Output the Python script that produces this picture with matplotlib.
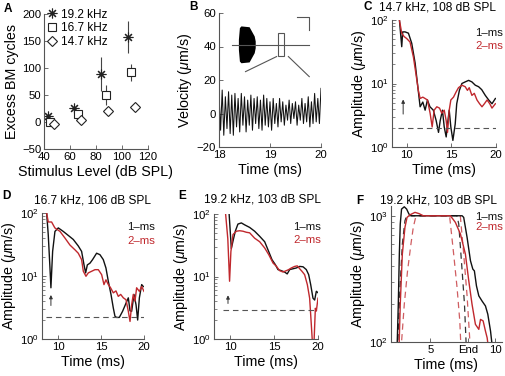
import numpy as np
import matplotlib
matplotlib.use('Agg')
import matplotlib.pyplot as plt
from matplotlib.ticker import LogLocator, NullFormatter, NullLocator, FixedLocator, FixedFormatter

plt.rcParams['font.family'] = ['Liberation Sans', 'DejaVu Sans']
plt.rcParams['mathtext.fontset'] = 'custom'
plt.rcParams['mathtext.rm'] = 'Liberation Sans'
plt.rcParams['mathtext.it'] = 'Liberation Sans:italic'
plt.rcParams['mathtext.bf'] = 'Liberation Sans:bold'

# ---------------- data ----------------
# Panel A: excess BM cycles vs stimulus level
a_lvl_192 = [42.7, 63.0, 83.9, 104.3]
a_cyc_192 = [11, 25, 89, 157]
a_err_192 = [5, 5, 31, 30]
a_lvl_167 = [44.9, 66.3, 87.5, 107.3]
a_cyc_167 = [0, 14, 50, 92]
a_err_167 = [4, 5, 18, 16]
a_lvl_147 = [47.6, 68.7, 89.6, 110.0]
a_cyc_147 = [-4, 4, 20, 27]
a_err_147 = [4, 4, 6, 6]

# Panel B: BM velocity (successive extremes, 18-20 ms)
b_vel = [12, -10, 14, -13, 10, -9, 13, -12, 11, -13, 12, -8, 9, -11, 12, -7,
         10, -11, 8, -7, 11, -10, 9, -6, 10, -9, 8, -10, 11, -7, 9, -8,
         7, -10, 9, -6, 6, -8, 9, -5, 7, -7, 5, -4, 8, -6, 6, -3, 7, -7,
         5, -4, 9, -6, 6, -5, 10, -8, 7, -6, 12, -5, 9, -6, 15]
b_time_start, b_time_end = 18.0, 20.0

# Panel B inset (schematic)
ins_line_x = [18.26, 19.77]
ins_line_y = [41, 41]
ins_burst_x = [18.39, 18.41, 18.44, 18.60, 18.70, 18.72, 18.72, 18.70, 18.60, 18.44, 18.41, 18.39]
ins_burst_y = [44, 51, 52, 51.5, 46, 43, 39, 36, 30.5, 30, 31, 38]
ins_box = [19.16, 34.6, 0.11, 13.4]
ins_zoom_l = ([19.13, 18.52], [34, 25])
ins_zoom_r = ([19.36, 19.77], [34, 22])
ins_scale = ([19.52, 19.77, 19.77], [57.4, 57.4, 50])

# Panel C: 14.7 kHz, 108 dB SPL
c_t1 = [9.18, 9.44, 9.55, 9.81, 10.19, 10.56, 10.94, 11.2, 11.5, 11.8, 12.06, 12.32, 12.6, 12.98,
        13.3, 13.56, 13.75, 14.0, 14.2, 14.42, 14.57, 14.76, 14.94, 15.17, 15.43, 15.6, 15.9,
        16.18, 16.55, 16.93, 17.3, 17.68, 18.05, 18.4, 18.8, 19.18, 19.55, 19.93]
c_a1 = [100, 38, 65, 65, 62, 43, 21, 10, 4.3, 5.1, 3.8, 5.5, 4.3, 3.8, 2.6, 1.7, 2.6, 3.8,
        2.07, 1.44, 2.3, 3.8, 2.07, 1.27, 2.3, 4.8, 7.8, 10, 10.6, 11.2, 10.6, 9.4, 8.9, 8.0,
        6.5, 5.5, 4.8, 5.8]
c_t2 = [9.18, 9.44, 9.7, 10.0, 10.37, 10.75, 11.05, 11.3, 11.5, 11.8, 12.06, 12.32, 12.62,
        12.85, 13.07, 13.37, 13.67, 13.93, 14.2, 14.42, 14.57, 14.76, 14.94, 15.24, 15.54,
        15.8, 16.18, 16.55, 16.8, 17.0, 17.3, 17.57, 17.87, 18.16, 18.43, 18.7, 19.0, 19.3,
        19.55, 19.93]
c_a2 = [100, 62, 55, 51, 45, 26, 13.6, 7.8, 5.8, 6.1, 5.8, 5.5, 3.4, 2.07, 3.8, 4.3, 4.1,
        3.4, 3.8, 2.6, 1.7, 3.8, 5.5, 6.1, 7.4, 8.6, 9.4, 8.9, 7.8, 8.6, 6.5, 7.0, 5.5, 4.8,
        4.3, 4.8, 5.5, 4.8, 4.1, 4.8]
c_noise = 2.0
c_arrow = (9.6, 3.3, 5.6)

# Panel D: 16.7 kHz, 106 dB SPL
d_t1 = [8.64, 8.83, 9.03, 9.14, 9.34, 9.61, 10.0, 10.58, 11.17, 11.75, 12.33, 12.72, 13.0,
        13.19, 13.39, 13.7, 14.0, 14.47, 14.86, 15.25, 15.56, 15.84, 16.15, 16.42, 16.61,
        16.8, 17.12, 17.5, 17.9, 18.17, 18.37, 18.56, 18.83, 19.07, 19.26, 19.46, 19.73, 19.92]
d_a1 = [100, 45, 13.4, 6.5, 24.6, 51, 58, 51, 44, 38, 30, 24.6, 15.1, 11.2, 15, 16, 18.2,
        23, 21.8, 18.2, 13.4, 8.2, 5.1, 3.1, 2.3, 2.2, 2.2, 2.75, 3.7, 4.5, 2.8, 2.75, 5.1,
        3.5, 2.0, 4.5, 7.3, 6.8]
d_t2 = [8.64, 8.83, 9.22, 9.6, 10.2, 10.78, 11.36, 11.95, 12.33, 12.72, 12.92, 13.23, 13.5,
        13.9, 14.28, 14.67, 15.06, 15.33, 15.56, 15.84, 16.1, 16.42, 16.73, 17.0, 17.28,
        17.59, 17.9, 18.17, 18.37, 18.56, 18.75, 18.95, 19.14, 19.46, 19.73, 20.0]
d_a2 = [100, 72, 72, 58, 51, 40, 31, 26, 23, 18.2, 11.9, 9.9, 11.2, 11.9, 12.6, 12.6, 10.5,
        7.3, 8.7, 7.3, 6.5, 5.4, 5.8, 4.75, 5.1, 4.5, 4.2, 2.75, 1.9, 3.5, 5.1, 4.0, 6.5,
        5.7, 6.8, 5.7]
d_noise = 2.2
d_arrow = (9.14, 3.4, 5.0)

# Panel E: 19.2 kHz, 103 dB SPL
e_t1 = [9.9, 10.15, 10.34, 10.6, 10.9, 11.29, 11.67, 12.23, 12.8, 13.37, 13.94, 14.4, 14.77,
        15.15, 15.45, 15.83, 16.2, 16.5, 16.78, 17.16, 17.54, 17.92, 18.3, 18.67, 18.94,
        19.17, 19.43, 19.62, 19.81, 20.0]
e_a1 = [100, 28, 37, 53, 69, 72, 67, 61, 53, 44, 36, 25, 18.6, 15.5, 12.9, 12.4, 11.8, 11,
        12.9, 13.3, 13.7, 14.5, 14.3, 12.9, 10.7, 7.4, 4.5, 4.2, 5.8, 5.5]
e_t2 = [9.5, 9.75, 9.95, 10.1, 10.34, 10.72, 11.1, 11.48, 11.86, 12.23, 12.8, 13.37, 13.94,
        14.4, 14.89, 15.27, 15.64, 16.02, 16.4, 16.67, 16.97, 17.35, 17.65, 17.92, 18.18,
        18.48, 18.79, 19.05, 19.24, 19.36, 19.55, 19.7, 19.81, 20.0]
e_a2 = [100, 40, 8.4, 25, 47, 53, 54, 53, 51, 50, 41, 36, 28.6, 22.4, 16.4, 14.6, 12.4, 11.8,
        12.4, 12.9, 13.7, 14.5, 14.8, 13.3, 12.1, 10.7, 7.4, 4.5, 1.7, 0.9, 0.9, 3.1, 2.8, 4.5]
e_noise = 2.94
e_arrow = (9.77, 3.7, 5.0)

# Panel F: 19.2 kHz, 103 dB SPL (full response & stimulus envelopes)
f_t1 = [2.44, 2.54, 2.62, 2.69, 2.79, 3.0, 3.18, 3.36, 3.56, 7.44, 7.56, 7.82, 8.08, 8.26,
        8.38, 8.54, 8.72, 8.97, 9.23, 9.41, 9.62, 9.79]
f_a1 = [85, 199, 497, 859, 1130, 1178, 1130, 1030, 1000, 1000, 971, 674, 440, 378, 366, 278,
        232, 211, 193, 166, 122, 85]
f_t2 = [2.59, 2.69, 2.85, 3.05, 3.21, 3.44, 3.82, 4.13, 4.46, 6.54, 6.92, 7.31, 7.69, 7.95,
        8.2, 8.46, 8.72, 8.85, 9.05, 9.23, 9.36, 9.49]
f_a2 = [85, 199, 497, 809, 970, 1018, 1064, 1040, 1000, 1000, 887, 716, 497, 305, 199, 138,
        126, 151, 147, 122, 108, 85]
f_env1_t = [2.48, 2.67, 2.85, 3.05, 3.18, 7.05, 7.18, 7.44, 7.62, 7.77]
f_env1_a = [85, 270, 596, 913, 1000, 1000, 859, 366, 199, 85]
f_env2_t = [2.74, 3.0, 3.25, 3.51, 3.69, 3.87, 4.0, 6.4, 6.49, 6.79, 7.05, 7.26, 7.36]
f_env2_a = [85, 199, 366, 596, 809, 970, 1000, 1000, 970, 497, 270, 147, 85]
f_env3_t = [7.3, 7.56, 7.82, 8.08]
f_env3_a = [1000, 497, 232, 85]
f_ticks = [5, 7.9, 10]
f_ticklabels = ['5', 'End', '10']

# ---------------- figure ----------------
W, H = 506, 376
fig = plt.figure(figsize=(W / 100, H / 100), dpi=100)

def box(l, t, r, b):
    return [l / W, 1 - b / H, (r - l) / W, (b - t) / H]

SPINE = '#555555'
BLK = '#111111'
RED = '#c0282d'
GRAY = '#555555'
TICK_FS = 8.2
LAB_FS = 10.3

def style(ax):
    for s in ['top', 'right']:
        ax.spines[s].set_visible(False)
    for s in ['left', 'bottom']:
        ax.spines[s].set_color(SPINE)
        ax.spines[s].set_linewidth(0.8)
    ax.tick_params(direction='in', length=3, width=0.6, color=SPINE,
                   labelsize=TICK_FS, pad=2)
    ax.tick_params(which='minor', direction='in', length=1.8, width=0.5, color=SPINE)
    ax.patch.set_alpha(0)

def ftext(x, y, s, **kw):
    fig.text(x / W, 1 - y / H, s, **kw)

# Panel A
axA = fig.add_axes(box(44, 14, 148, 149))
style(axA)
for lv, cy, er, mk, ms, lab in [
        (a_lvl_192, a_cyc_192, a_err_192, (8, 2, 0), 7, '19.2 kHz'),
        (a_lvl_167, a_cyc_167, a_err_167, 's', 5.5, '16.7 kHz'),
        (a_lvl_147, a_cyc_147, a_err_147, 'D', 5, '14.7 kHz')]:
    axA.errorbar(lv, cy, yerr=er, fmt='none', ecolor='#444444', elinewidth=0.8, capsize=0)
    axA.plot(lv, cy, ls='none', marker=mk, ms=ms, mfc='white', mec='#222222', mew=0.8,
             label=lab)
axA.set_xlim(40, 120)
axA.set_ylim(-50, 200)
axA.set_xticks([40, 60, 80, 100, 120])
axA.set_yticks([-50, 0, 50, 100, 150, 200])
axA.set_xlabel('Stimulus Level (dB SPL)', fontsize=LAB_FS, labelpad=2)
axA.set_ylabel('Excess BM cycles', fontsize=LAB_FS, labelpad=2)
axA.legend(loc='upper left', bbox_to_anchor=(0.02, 1.04), frameon=False, fontsize=8.5,
           handlelength=1.0, handletextpad=0.3, labelspacing=0.15, borderaxespad=0,
           borderpad=0)

# Panel B
axB = fig.add_axes(box(219, 13, 321, 147))
style(axB)
b_t = np.linspace(b_time_start, b_time_end, len(b_vel))
axB.plot(b_t, b_vel, color=BLK, lw=0.75)
axB.plot(ins_line_x, ins_line_y, color=GRAY, lw=0.8)
axB.fill(ins_burst_x, ins_burst_y, color='black', lw=0)
axB.add_patch(plt.Rectangle((ins_box[0], ins_box[1]), ins_box[2], ins_box[3],
                            fill=False, ec=GRAY, lw=0.8))
axB.plot(*ins_zoom_l, color=GRAY, lw=0.8)
axB.plot(*ins_zoom_r, color=GRAY, lw=0.8)
axB.plot(*ins_scale, color=GRAY, lw=0.8)
axB.set_xlim(18, 20)
axB.set_ylim(-20, 60)
axB.set_xticks([18, 19, 20])
axB.set_yticks([-20, 0, 20, 40, 60])
axB.set_xlabel('Time (ms)', fontsize=LAB_FS, labelpad=2)
axB.set_ylabel(r'Velocity ($\mu$m/s)', fontsize=LAB_FS, labelpad=2)

def amp_panel(rect, t1, a1, t2, a2, noise, arrow, xlim):
    ax = fig.add_axes(rect)
    style(ax)
    ax.set_yscale('log')
    ax.plot(t1, a1, color=BLK, lw=1.0)
    ax.plot(t2, a2, color=RED, lw=1.0)
    ax.hlines(noise, arrow[0] - 0.6, 20, colors=GRAY, linestyles=(0, (5, 3.5)), lw=0.8)
    ax.annotate('', xy=(arrow[0], arrow[2]), xytext=(arrow[0], arrow[1]),
                arrowprops=dict(arrowstyle='-|>', color='#333333', lw=0.7,
                                mutation_scale=5, shrinkA=0, shrinkB=0))
    ax.set_xlim(*xlim)
    ax.set_ylim(1, 100)
    ax.set_xticks([10, 15, 20])
    ax.xaxis.set_minor_locator(NullLocator())
    ax.yaxis.set_major_locator(FixedLocator([1, 10, 100]))
    ax.yaxis.set_major_formatter(FixedFormatter([r'$10^0$', r'$10^1$', r'$10^2$']))
    ax.yaxis.set_minor_locator(LogLocator(base=10, subs=np.arange(2, 10)))
    ax.yaxis.set_minor_formatter(NullFormatter())
    ax.set_xlabel('Time (ms)', fontsize=LAB_FS, labelpad=2)
    ax.set_ylabel(r'Amplitude ($\mu$m/s)', fontsize=LAB_FS, labelpad=2)
    return ax

axC = amp_panel(box(392, 20, 496, 147), c_t1, c_a1, c_t2, c_a2, c_noise, c_arrow, (8.35, 20))
axD = amp_panel(box(42, 213, 144, 339), d_t1, d_a1, d_t2, d_a2, d_noise, d_arrow, (8.1, 20))
axE = amp_panel(box(214, 214, 318, 339), e_t1, e_a1, e_t2, e_a2, e_noise, e_arrow, (8.18, 20))

# Panel F
axF = fig.add_axes(box(391, 206, 502, 342))
style(axF)
axF.set_yscale('log')
axF.plot(f_env1_t, f_env1_a, color='#333333', lw=0.9, ls=(0, (5, 3.5)))
axF.plot(f_env2_t, f_env2_a, color=RED, lw=0.9, ls=(0, (5, 3.5)), alpha=0.75)
axF.plot(f_env3_t, f_env3_a, color=RED, lw=0.9, ls=(0, (5, 3.5)), alpha=0.75)
axF.plot(f_t1, f_a1, color=BLK, lw=1.0)
axF.plot(f_t2, f_a2, color=RED, lw=1.0)
axF.set_xlim(1.98, 10.5)
axF.set_ylim(100, 1195)
axF.xaxis.set_major_locator(FixedLocator(f_ticks))
axF.xaxis.set_major_formatter(FixedFormatter(f_ticklabels))
axF.xaxis.set_minor_locator(NullLocator())
axF.yaxis.set_major_locator(FixedLocator([100, 1000]))
axF.yaxis.set_major_formatter(FixedFormatter([r'$10^2$', r'$10^3$']))
axF.yaxis.set_minor_locator(LogLocator(base=10, subs=np.arange(2, 10)))
axF.yaxis.set_minor_formatter(NullFormatter())
axF.set_xlabel('Time (ms)', fontsize=LAB_FS, labelpad=2)
axF.set_ylabel(r'Amplitude ($\mu$m/s)', fontsize=LAB_FS, labelpad=2)

# panel letters
for lab, x, y in [('A', 8, 8.5), ('B', 193, 7), ('C', 367.5, 7.5),
                  ('D', 6.5, 196), ('E', 182, 196), ('F', 360, 201)]:
    ftext(x, y, lab, fontsize=8.5, fontweight='bold', ha='center', va='center')

# titles
for s, x, y in [('14.7 kHz, 108 dB SPL', 437.5, 7), ('16.7 kHz, 106 dB SPL', 93, 200.5),
                ('19.2 kHz, 103 dB SPL', 263, 200), ('19.2 kHz, 103 dB SPL', 439, 201)]:
    ftext(x, y, s, fontsize=8.6, ha='center', va='center')

# 1-ms / 2-ms labels
for x, y1, y2 in [(475, 33.3, 45.8), (127, 227, 241), (293, 227, 240), (475, 217.5, 227.5)]:
    ftext(x, y1, '1\u2013ms', fontsize=8.2, color=BLK, ha='left', va='center')
    ftext(x, y2, '2\u2013ms', fontsize=8.2, color=RED, ha='left', va='center')

fig.savefig('out.png', dpi=100)
